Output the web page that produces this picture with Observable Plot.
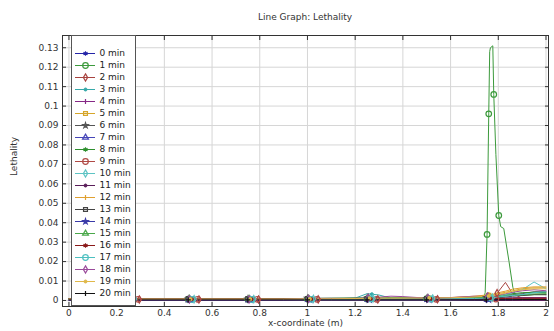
<!DOCTYPE html>
<html><head><meta charset="utf-8">
<script src="https://cdn.jsdelivr.net/npm/d3@7"></script>
<script src="https://cdn.jsdelivr.net/npm/@observablehq/plot@0.6"></script>
<style>
body{margin:0;background:#fff;font-family:"DejaVu Sans",sans-serif;}
#wrap{position:relative;width:554px;height:331px;overflow:hidden;background:#fff;}
#title{position:absolute;left:62px;width:486px;top:12px;text-align:center;font-size:9px;line-height:11px;color:#333;}
#chart{position:absolute;left:0;top:34px;}
#legend{position:absolute;left:71px;top:35px;width:65px;height:271px;background:#fff;border:1px solid #555;box-sizing:border-box;}
#legend svg, #chart svg{display:block;}
</style></head><body>
<div id="wrap"><div id="title">Line Graph: Lethality</div><div id="chart"></div><div id="legend"></div></div>
<script>
const seriesNames = ["0 min","1 min","2 min","3 min","4 min","5 min","6 min","7 min","8 min","9 min","10 min","11 min","12 min","13 min","14 min","15 min","16 min","17 min","18 min","19 min","20 min"];
const seriesColors = ["#2525a8","#3c9a3c","#a8433f","#36a9a9","#862886","#d6a62a","#555555","#4646b8","#2e8f2e","#b04a45","#5ec4c4","#5a1e5a","#e0a030","#444444","#3a3aa8","#4aa84a","#8b1a1a","#4cc0c0","#9a4a9a","#e0b84a","#111111"];
const seriesSymbols = ["asterisk","circle","diamond","point","plus","square","star","triangle","asterisk","circle","diamond","point","plus","square","star","triangle","asterisk","circle","diamond","point","plus"];
const xTicks = [0,0.2,0.4,0.6,0.8,1,1.2,1.4,1.6,1.8,2];
const yTicks = [0,0.01,0.02,0.03,0.04,0.05,0.06,0.07,0.08,0.09,0.1,0.11,0.12,0.13];

// shared x-coordinates (m)
const xs = [0,0.1,0.2,0.3,0.4,0.5,0.6,0.7,0.8,0.9,1.0,1.1,1.2,1.25,1.3,1.35,1.4,1.5,1.6,1.7,1.75,1.78,1.8,1.83,1.86,1.9,1.95,2.0];
// 1 min series has its own finer x-coordinates around the peak
const xGreen = [0,0.1,0.2,0.3,0.4,0.5,0.6,0.7,0.8,0.9,1.0,1.1,1.2,1.3,1.4,1.5,1.6,1.7,1.74,1.745,1.753,1.76,1.764,1.767,1.777,1.781,1.79,1.802,1.81,1.823,1.845,1.861,1.872,1.9,1.95,2.0];

const min0  = [0.0002,0.0002,0.0002,0.0002,0.0002,0.0002,0.0002,0.0002,0.0002,0.0002,0.0003,0.0003,0.0003,0.0003,0.0003,0.0003,0.0003,0.0003,0.0003,0.0002,0.0001,0.0001,0.0002,0.0002,0.0002,0.0002,0.0002,0.0002];
const min1  = [0.0006,0.0006,0.0006,0.0006,0.0006,0.0006,0.0006,0.0006,0.0006,0.0006,0.0007,0.0007,0.0008,0.0008,0.0008,0.0009,0.001,0.0012,0.0015,0.004,0.034,0.096,0.128,0.13,0.131,0.106,0.075,0.0437,0.038,0.037,0.02,0.0068,0.0025,0.0025,0.003,0.003];
const min2  = [0.0005,0.0005,0.0005,0.0005,0.0005,0.0005,0.0005,0.0005,0.0005,0.0005,0.0006,0.0006,0.0006,0.0006,0.0006,0.0006,0.0006,0.0006,0.0007,0.0008,0.0009,0.0015,0.0045,0.0093,0.0035,0.0012,0.001,0.001];
const min3  = [0.0006,0.0006,0.0006,0.0006,0.0006,0.0006,0.0006,0.0006,0.0006,0.0006,0.0008,0.0008,0.0012,0.0035,0.0028,0.0012,0.0009,0.0008,0.0008,0.0009,0.0009,0.001,0.0011,0.0012,0.0013,0.0014,0.0015,0.0015];
const min4  = [0.0004,0.0004,0.0004,0.0004,0.0004,0.0004,0.0004,0.0004,0.0004,0.0004,0.0006,0.0007,0.0008,0.0009,0.001,0.0012,0.0011,0.0009,0.0009,0.001,0.001,0.0011,0.0012,0.0013,0.0014,0.0015,0.0015,0.0015];
const min5  = [0.0006,0.0006,0.0006,0.0006,0.0006,0.0006,0.0006,0.0006,0.0006,0.0006,0.0007,0.0008,0.0009,0.001,0.001,0.001,0.0011,0.0012,0.0015,0.002,0.0025,0.003,0.0035,0.0042,0.005,0.006,0.0065,0.0065];
const min6  = [0.0008,0.0008,0.0008,0.0008,0.0008,0.0008,0.0008,0.0008,0.0008,0.0008,0.0011,0.0012,0.0012,0.0012,0.0011,0.001,0.001,0.001,0.0011,0.0013,0.0015,0.0017,0.002,0.0025,0.003,0.0035,0.0045,0.0045];
const min7  = [0.0003,0.0003,0.0003,0.0003,0.0003,0.0003,0.0003,0.0003,0.0003,0.0003,0.0004,0.0004,0.0004,0.0004,0.0004,0.0004,0.0004,0.0004,0.0004,0.0004,0.0004,0.0004,0.0004,0.0005,0.0005,0.0005,0.0005,0.0005];
const min8  = [0.0008,0.0008,0.0008,0.0008,0.0008,0.0008,0.0008,0.0008,0.0008,0.0008,0.0009,0.001,0.001,0.0011,0.0012,0.0012,0.0013,0.0014,0.0014,0.0015,0.0016,0.002,0.0025,0.003,0.0035,0.004,0.0042,0.004];
const min9  = [0.0006,0.0006,0.0006,0.0006,0.0006,0.0006,0.0006,0.0006,0.0006,0.0006,0.0006,0.0006,0.0006,0.0006,0.0006,0.0006,0.0006,0.0006,0.0006,0.0006,0.0006,0.0007,0.0007,0.0008,0.0009,0.001,0.001,0.001];
const min10 = [0.0007,0.0007,0.0007,0.0007,0.0007,0.0007,0.0007,0.0007,0.0007,0.0007,0.0008,0.0008,0.0009,0.001,0.001,0.001,0.001,0.001,0.001,0.0011,0.0012,0.0015,0.002,0.003,0.004,0.0055,0.0095,0.006];
const min11 = [0.0002,0.0002,0.0002,0.0002,0.0002,0.0002,0.0002,0.0002,0.0002,0.0002,0.0002,0.0002,0.0002,0.0002,0.0002,0.0002,0.0002,0.0002,0.0002,0.0001,0.0001,0.0,0.0,0.0,0.0,0.0,0.0,0.0];
const min12 = [0.0007,0.0007,0.0007,0.0007,0.0007,0.0007,0.0007,0.0007,0.0007,0.0007,0.0008,0.0009,0.001,0.001,0.0011,0.0011,0.0011,0.0012,0.0014,0.0022,0.0028,0.0033,0.004,0.0048,0.0058,0.0065,0.007,0.007];
const min13 = [0.001,0.001,0.001,0.001,0.001,0.001,0.001,0.001,0.001,0.001,0.001,0.001,0.001,0.001,0.001,0.001,0.001,0.001,0.001,0.001,0.001,0.0012,0.0014,0.0018,0.0022,0.0026,0.003,0.003];
const min14 = [0.0004,0.0004,0.0004,0.0004,0.0004,0.0004,0.0004,0.0004,0.0004,0.0004,0.0004,0.0004,0.0004,0.0004,0.0004,0.0004,0.0004,0.0004,0.0004,0.0004,0.0004,0.0004,0.0005,0.0005,0.0005,0.0006,0.0006,0.0006];
const min15 = [0.0009,0.0009,0.0009,0.0009,0.0009,0.0009,0.0009,0.0009,0.0009,0.0009,0.001,0.0011,0.0013,0.0013,0.0013,0.0013,0.0013,0.0013,0.0013,0.0014,0.0015,0.0017,0.002,0.0024,0.0028,0.003,0.0034,0.0035];
const min16 = [0.0008,0.0008,0.0008,0.0008,0.0008,0.0008,0.0008,0.0008,0.0008,0.0008,0.0008,0.0008,0.0008,0.0008,0.0008,0.0008,0.0008,0.0008,0.0008,0.0008,0.0008,0.0009,0.001,0.001,0.0011,0.0012,0.0012,0.0012];
const min17 = [0.0005,0.0005,0.0005,0.0005,0.0005,0.0005,0.0005,0.0005,0.0005,0.0005,0.0006,0.0006,0.0007,0.0008,0.0008,0.0008,0.0008,0.0008,0.0009,0.001,0.0012,0.0014,0.0018,0.0022,0.0026,0.003,0.004,0.0045];
const min18 = [0.0006,0.0006,0.0006,0.0006,0.0006,0.0006,0.0006,0.0006,0.0006,0.0006,0.0008,0.0009,0.0011,0.0013,0.0017,0.0022,0.002,0.0012,0.0015,0.0022,0.002,0.0022,0.0028,0.0035,0.0042,0.005,0.0055,0.005];
const min19 = [0.0007,0.0007,0.0007,0.0007,0.0007,0.0007,0.0007,0.0007,0.0007,0.0007,0.0008,0.0009,0.001,0.0011,0.0012,0.0012,0.0012,0.0013,0.0014,0.0018,0.0022,0.0026,0.003,0.0038,0.0047,0.0055,0.006,0.006];
const min20 = [0.0003,0.0003,0.0003,0.0003,0.0003,0.0003,0.0003,0.0003,0.0003,0.0003,0.0003,0.0003,0.0003,0.0003,0.0003,0.0003,0.0003,0.0003,0.0003,0.0003,0.0003,0.0003,0.0004,0.0004,0.0004,0.0005,0.0005,0.0005];

// marker locations along the lines
const markerX = [0.25,0.5,0.75,1.0,1.25,1.5,1.75];
const greenMarkerX = [0.25,0.5,0.75,1.0,1.25,1.5,1.753,1.76,1.781,1.802];
const markerShift = [0,0,0.045,0.02,0,0.01,0,0.005,0.01,0.04,0.025,0,0.01,0,0.01,0.005,0.02,0.015,0.005,0.01,0];

const seriesY = [min0,min1,min2,min3,min4,min5,min6,min7,min8,min9,min10,min11,min12,min13,min14,min15,min16,min17,min18,min19,min20];

function interp(xa, ya, x) {
  for (let j = 1; j < xa.length; j++) {
    if (x <= xa[j]) { const t = (x - xa[j-1]) / (xa[j] - xa[j-1]); return ya[j-1] + t * (ya[j] - ya[j-1]); }
  }
  return ya[ya.length - 1];
}

const rows = [];
seriesY.forEach((ys, i) => {
  const xa = i === 1 ? xGreen : xs;
  ys.forEach((y, j) => rows.push({series: seriesNames[i], x: xa[j], y}));
});

const symbolSize = {asterisk: 2.2, circle: 2.8, diamond: 2.2, plus: 1.8, square: 2.2, star: 1.7, triangle: 2.2};
function dotOpts(i) {
  const sym = seriesSymbols[i];
  const c = seriesColors[i];
  if (sym === "point") return {symbol: "circle", fill: c, stroke: c, r: 1.5, strokeWidth: 1};
  return {symbol: sym, fill: "none", stroke: c, r: symbolSize[sym], strokeWidth: 1.2};
}

const dotMarks = seriesY.map((ys, i) => {
  const xa = i === 1 ? xGreen : xs;
  const mx = i === 1 ? greenMarkerX : markerX.map(v => v + markerShift[i]);
  const pts = mx.map(x => ({x, y: interp(xa, ys, x)}));
  return Plot.dot(pts, {x: "x", y: "y", ...dotOpts(i)});
});

const chart = Plot.plot({
  width: 554, height: 297,
  marginLeft: 62, marginRight: 6, marginTop: 1, marginBottom: 25,
  x: {domain: [-0.027, 2.0105]},
  y: {domain: [-0.0031, 0.1363]},
  color: {domain: seriesNames, range: seriesColors},
  style: {fontFamily: "DejaVu Sans", fontSize: "9px", color: "#333", background: "transparent", overflow: "visible"},
  marks: [
    Plot.gridX({ticks: xTicks, stroke: "#d6d6d6", strokeOpacity: 1}),
    Plot.gridY({ticks: yTicks, stroke: "#d6d6d6", strokeOpacity: 1}),
    Plot.line(rows, {x: "x", y: "y", z: "series", stroke: "series", strokeWidth: 1}),
    ...dotMarks,
    Plot.frame({stroke: "#333", strokeWidth: 1}),
    Plot.axisX({ticks: xTicks, tickSize: -4, tickPadding: 7, tickFormat: d => String(d), label: null}),
    Plot.axisX({anchor: "top", ticks: xTicks, tickSize: -4, tickFormat: () => "", label: null}),
    Plot.axisY({ticks: yTicks, tickSize: -4, tickPadding: 8, tickFormat: d => String(d), label: null}),
    Plot.axisY({anchor: "right", ticks: yTicks, tickSize: -4, tickFormat: () => "", label: null}),
    Plot.text(["x-coordinate (m)"], {frameAnchor: "bottom", dy: 19, fill: "#333"}),
    Plot.text(["Lethality"], {frameAnchor: "left", rotate: -90, dx: -48, dy: 5, fill: "#333"})
  ]
});
document.getElementById("chart").appendChild(chart);

// legend
const legendRows = seriesNames.map((name, i) => ({name, i}));
const legend = Plot.plot({
  width: 63, height: 269,
  marginLeft: 3, marginRight: 40, marginTop: 9, marginBottom: 4.6,
  x: {domain: [0, 1], axis: null},
  y: {type: "point", domain: seriesNames, axis: null},
  style: {fontFamily: "DejaVu Sans", fontSize: "9px", color: "#222", background: "transparent", overflow: "visible"},
  marks: [
    Plot.ruleY(legendRows, {y: "name", x1: 0, x2: 1, stroke: d => seriesColors[d.i], strokeWidth: 1}),
    ...legendRows.map(d => Plot.dot([d], {x: 0.5, y: "name", ...dotOpts(d.i)})),
    Plot.text(legendRows, {x: 1, y: "name", text: "name", dx: 4, textAnchor: "start", fill: "#222"})
  ]
});
document.getElementById("legend").appendChild(legend);
</script></body></html>
